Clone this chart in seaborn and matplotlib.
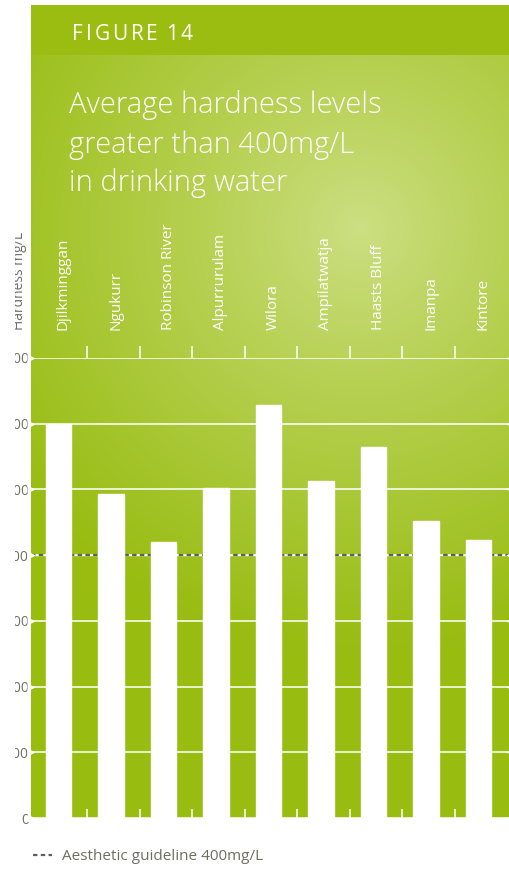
import numpy as np
import matplotlib
matplotlib.use("Agg")
import matplotlib.pyplot as plt
from matplotlib.patches import Rectangle
from matplotlib.lines import Line2D
from matplotlib.transforms import Bbox, TransformedBbox, blended_transform_factory
import seaborn as sns
import pandas as pd

# ---- data -------------------------------------------------------------
communities = ["Djilkminggan", "Ngukurr", "Robinson River", "Alpurrurulam", "Wilora",
               "Ampilatwatja", "Haasts Bluff", "Imanpa", "Kintore"]
hardness = [600, 493, 420, 502, 629, 513, 565, 452, 423]      # mg/L
y_ticks = [0, 100, 200, 300, 400, 500, 600, 700]
guideline = 400                                                 # mg/L

figure_label = "FIGURE 14"
title_lines = ["Average hardness levels", "greater than 400mg/L", "in drinking water"]
y_label = "Hardness mg/L"
legend_label = "Aesthetic guideline 400mg/L"

# ---- styling ------------------------------------------------------------
W, H, DPI = 510, 869, 100
sns.set_style("white")
plt.rcParams["font.family"] = ["Open Sans", "DejaVu Sans"]

GREY_TXT = "#6e6e62"
GUIDE = "#5f5f55"
BAND = "#9bbd12"

fig = plt.figure(figsize=(W / DPI, H / DPI), dpi=DPI)
fig.patch.set_facecolor("white")
renderer = fig.canvas.get_renderer()

# background canvas in pixel units (y grows downward)
bg = fig.add_axes([0, 0, 1, 1], zorder=0)
bg.set_xlim(0, W)
bg.set_ylim(H, 0)
bg.axis("off")

pl, pr, pt, pb = 31, 510, 5, 818
yy, xx = np.mgrid[pt:pb:1.0, pl:pr:1.0]
r = np.hypot(xx - 360, yy - 228)
t = np.clip(r / 430, 0, 1) ** 0.85
light = np.array([205, 224, 133]) / 255
dark = np.array([152, 188, 16]) / 255
img = light + (dark - light) * t[..., None]
bg.imshow(img, extent=(pl, pr, pb, pt), origin="upper",
          interpolation="bilinear", aspect="auto")
bg.add_patch(Rectangle((pl, pt), pr - pl, 50, color=BAND, lw=0))


def tracked_text(axis, x0, x1, y, s, **kw):
    """Draw s between x0 and x1 (pixels) with even letter spacing."""
    parts = []
    for ch in s:
        if ch == " ":
            parts.append((None, kw["fontsize"] * DPI / 72 * 0.12))
        else:
            txt = axis.text(0, y, ch, va="baseline", **kw)
            parts.append((txt, txt.get_window_extent(renderer).width))
    gap = (x1 - x0 - sum(w for _, w in parts)) / (len(parts) - 1)
    x = x0
    for txt, w in parts:
        if txt is not None:
            txt.set_x(x)
        x += w + gap


tracked_text(bg, 72, 193, 40, figure_label, color="white", fontsize=15)
for txt, base in zip(title_lines, [113, 153, 191]):
    bg.text(69, base, txt, color="white", fontsize=21, fontweight="light",
            va="baseline")

# ---- chart ----------------------------------------------------------------
ax = fig.add_axes([pl / W, (H - pb) / H, (pr - pl) / W, 460 / H], zorder=2)
ax.set_facecolor("none")

df = pd.DataFrame({"community": communities, "hardness": hardness})
sns.barplot(data=df, x="community", y="hardness", color="white", saturation=1,
            width=0.48, ax=ax, zorder=3)

ax.set_xlim(-0.525, 8.6)
ax.set_ylim(0, 700)
for s in ax.spines.values():
    s.set_visible(False)
ax.set_xlabel("")
ax.set_ylabel("")

edge = blended_transform_factory(ax.transAxes, ax.transData)
for v in y_ticks:
    ax.axhline(v, color="white", lw=1.4, alpha=0.8, zorder=1)
# guideline
ax.axhline(guideline, color="white", lw=1.0, zorder=1.5)
ax.axhline(guideline, color=GUIDE, lw=1.6, ls=(0, (2.0, 1.5)), zorder=1.6)
marks = y_ticks + [guideline]
ax.plot([0] * len(marks), marks, transform=edge, ls="none", marker=">", ms=6,
        mfc="white", mec="none", clip_on=False, zorder=4)
ax.plot([1] * len(marks), marks, transform=edge, ls="none", marker="<", ms=6,
        mfc="white", mec="none", clip_on=False, zorder=4)

# y ticks (left side clipped at the page margin)
ax.set_yticks(y_ticks)
ax.tick_params(axis="y", length=0, pad=1.5, labelsize=10, labelcolor=GREY_TXT)
clipbox = TransformedBbox(Bbox([[15 / W, 0], [1, 1]]), fig.transFigure)
for lbl in ax.get_yticklabels():
    lbl.set_clip_box(clipbox)
    lbl.set_clip_on(True)

# category separators
seps = [i + 0.55 for i in range(len(communities) - 1)]
ax.set_xticks(range(len(communities)), labels=[""] * len(communities))
ax.tick_params(axis="x", which="major", length=0)
ax.set_xticks(seps, minor=True)
ax.tick_params(axis="x", which="minor", direction="in", length=6.5, width=1.1,
               color="white", bottom=True)
top = ax.secondary_xaxis("top")
top.set_xticks(seps, labels=[""] * len(seps))
top.tick_params(direction="out", length=8.5, width=1.1, color="white")
top.spines["top"].set_visible(False)

colpos = blended_transform_factory(ax.transData, ax.transAxes)
for i, name in enumerate(communities):
    ax.text(i + 0.09, 1 + 28 / 460, name, transform=colpos, rotation=90,
            ha="center", va="bottom", color="white", fontsize=11, clip_on=False)

ylab = fig.text(23 / W, 1 - 330 / H, y_label, rotation=90, rotation_mode="anchor",
                ha="left", va="baseline", color=GREY_TXT, fontsize=10)
ylab.set_clip_box(clipbox)
ylab.set_clip_on(True)

# legend
handle = Line2D([], [], color=GUIDE, lw=1.6, ls=(0, (2.0, 1.5)))
fig.legend([handle], [legend_label], loc="center left",
           bbox_to_anchor=(33 / W, 1 - 857 / H), frameon=False, fontsize=11,
           labelcolor=GREY_TXT, handlelength=1.25, handletextpad=0.65,
           borderpad=0, borderaxespad=0)

fig.savefig("out.png", dpi=DPI, facecolor="white")
